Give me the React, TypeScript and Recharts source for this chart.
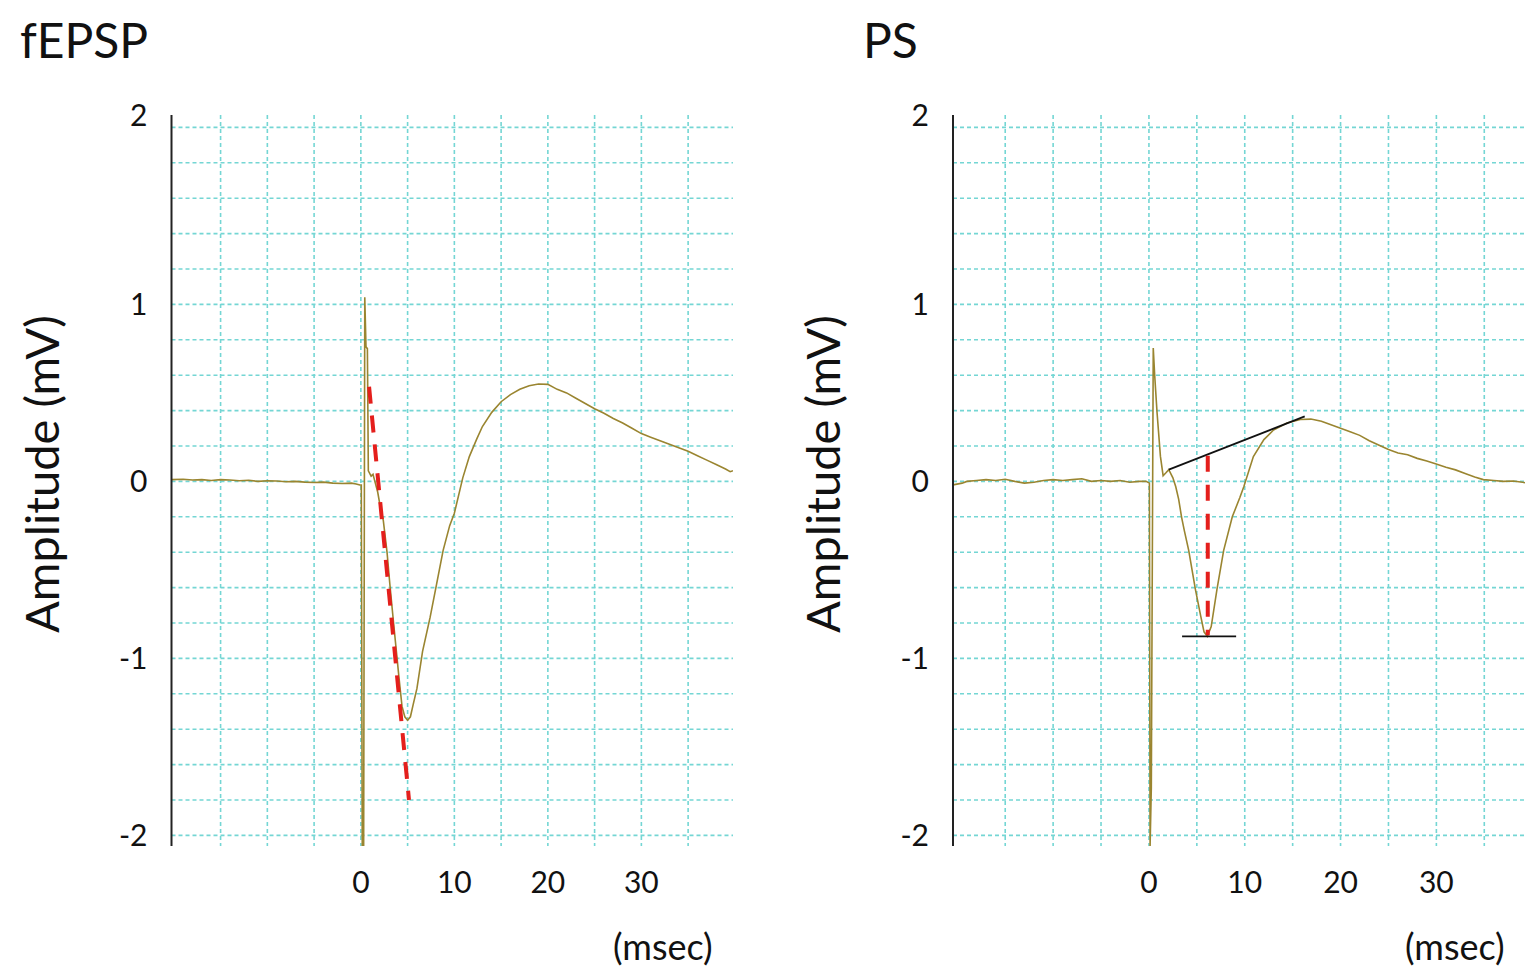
import React from "react";
import { LineChart, Line, XAxis, YAxis, CartesianGrid } from "recharts";

// ---------- data ----------
const fepspTime = [
  -20.25, -19, -18, -17, -16, -15, -14, -13, -12, -11, -10, -9, -8, -7, -6, -5, -4, -3, -2, -1, -0.5, -0.1,
  0.05, 0.15, 0.3, 0.42, 0.55, 0.7, 0.8, 1.1, 1.3, 1.5, 1.8, 2.1, 2.4, 2.8, 3.1, 3.5, 3.8, 4.1, 4.4, 4.7, 5.0,
  5.3, 5.6, 6.0, 6.6, 7.4, 8.1, 8.8, 9.5, 10, 10.9, 11.6, 12.4, 13, 14, 15, 16, 17, 18, 19, 20, 21, 22, 23,
  24, 25, 26, 27, 28, 29, 30, 31, 32, 33, 34, 35, 36, 37, 38, 39, 39.5, 39.8,
];
const fepspAmp = [
  0.01, 0.012, 0.008, 0.01, 0.005, 0.01, 0.008, 0.004, 0.006, 0.0, 0.004, 0.002, -0.002, 0.0, -0.004, -0.006,
  -0.004, -0.01, -0.012, -0.01, -0.015, -0.02,
  -0.02, -2.06, -2.06, 1.04, 0.76, 0.75, 0.06, 0.03, 0.04, 0.0, -0.06, -0.15, -0.22, -0.4, -0.58, -0.8, -0.96,
  -1.12, -1.27, -1.33, -1.35, -1.33, -1.26, -1.17, -0.96, -0.77, -0.58, -0.39, -0.25, -0.18, 0.02, 0.14, 0.24,
  0.31, 0.39, 0.45, 0.49, 0.52, 0.54, 0.55, 0.548, 0.52, 0.5, 0.47, 0.44, 0.41, 0.385, 0.355, 0.33, 0.3, 0.27,
  0.25, 0.23, 0.21, 0.19, 0.17, 0.145, 0.12, 0.095, 0.07, 0.055, 0.06,
];

const psTime = [
  -20.45, -19.5, -19, -18, -17, -16, -15, -14, -13, -12, -11, -10, -9, -8, -7, -6, -5, -4, -3, -2, -1, -0.3,
  0.05, 0.12, 0.25, 0.45, 0.6, 0.85, 1.2, 1.48, 1.8, 2.07, 2.5, 2.8, 3.1, 3.4, 3.7, 4.15, 4.85, 5.4, 5.75, 6.1,
  6.5, 7.1, 7.8, 8.7, 9.5, 9.9, 10.9, 12, 13, 14.4, 15.8, 16.9, 18, 19, 20, 21, 22, 23, 24.2, 25, 26, 27, 28,
  29, 29.9, 31, 32, 33, 34, 34.9, 36, 37, 38, 39, 39.25,
];
const psAmp = [
  -0.02, -0.01, 0.0, 0.005, 0.01, 0.005, 0.012, 0.0, -0.01, -0.005, 0.005, 0.01, 0.005, 0.01, 0.015, 0.0,
  0.005, 0.0, 0.005, -0.005, 0.0, 0.0,
  -0.01, -2.06, -1.73, 0.754, 0.6, 0.386, 0.141, 0.032, 0.05, 0.066, 0.02, -0.03, -0.1, -0.2, -0.28, -0.39,
  -0.61, -0.76, -0.85, -0.875, -0.82, -0.61, -0.39, -0.2, -0.09, -0.03, 0.14, 0.236, 0.29, 0.33, 0.35, 0.352,
  0.34, 0.32, 0.3, 0.28, 0.26, 0.23, 0.2, 0.18, 0.16, 0.15, 0.13, 0.115, 0.1, 0.08, 0.065, 0.045, 0.025, 0.01,
  0.005, 0.0, 0.002, -0.005, -0.008,
];

// slope line on fEPSP (red dashed)
const fepspSlopeTime = [0.88, 5.15];
const fepspSlopeAmp = [0.535, -1.8];
// PS baseline tangent (black)
const psTangentTime = [2.07, 16.26];
const psTangentAmp = [0.066, 0.367];
// PS amplitude (red dashed, vertical)
const psAmpLineTime = [6.14, 6.14];
const psAmpLineAmp = [0.145, -0.87];
// PS trough marker (black horizontal)
const psTroughTime = [3.46, 9.1];
const psTroughAmp = [-0.876, -0.876];

const xGridTicks = [-15, -10, -5, 0, 5, 10, 15, 20, 25, 30, 35];
const xTickLabels = ["0", "10", "20", "30"];
const yGridTicks = [
  -2, -1.8, -1.6, -1.4, -1.2, -1, -0.8, -0.6, -0.4, -0.2, 0, 0.2, 0.4, 0.6, 0.8, 1, 1.2, 1.4, 1.6, 1.8, 2,
];
const yTickLabels = ["-2", "-1", "0", "1", "2"];
const yDomain: [number, number] = [-2.06, 2.07];

const toRows = (ts: number[], vs: number[]) => ts.map((t, i) => ({ t, v: vs[i] }));

const FONT = "Lato, 'Open Sans', sans-serif";
const TRACE = "#9a8530";
const GRID = "#74d6d4";
const RED = "#e41f1c";

const XTick = (props: any) => {
  const { x, y, payload } = props;
  const label = String(payload.value);
  if (!xTickLabels.includes(label)) return <g />;
  return (
    <text x={x} y={y} dy="0.71em" textAnchor="middle" fontSize={30} fontFamily={FONT} fill="#111">
      {label}
    </text>
  );
};

const YTick = (props: any) => {
  const { x, y, payload } = props;
  const v = payload.value;
  const r = Math.round(v);
  const label = String(r);
  if (Math.abs(v - r) > 1e-6 || !yTickLabels.includes(label)) return <g />;
  const shift = r === 2 ? -12 : 0;
  return (
    <text x={x} y={y + shift} dy="0.36em" textAnchor="end" fontSize={30} fontFamily={FONT} fill="#111">
      {label}
    </text>
  );
};

type PanelProps = {
  left: number;
  width: number;
  marginLeft: number;
  marginRight: number;
  xDomain: [number, number];
  rows: { t: number; v: number }[];
  extras: { rows: { t: number; v: number }[]; color: string; width: number; dash?: string }[];
};

const Panel = ({ left, width, marginLeft, marginRight, xDomain, rows, extras }: PanelProps) => {
  // linear mapping of the axis domains onto the plot area, for grid lines only
  const hGen = (p: any) => {
    const o = p?.offset;
    if (!o) return [];
    return yGridTicks.map((v) => o.top + ((yDomain[1] - v) / (yDomain[1] - yDomain[0])) * o.height);
  };
  const vGen = (p: any) => {
    const o = p?.offset;
    if (!o) return [];
    return xGridTicks.map((v) => o.left + ((v - xDomain[0]) / (xDomain[1] - xDomain[0])) * o.width);
  };
  return (
    <div style={{ position: "absolute", left, top: 0 }}>
      <LineChart
        width={width}
        height={979}
        data={rows}
        margin={{ top: 115, right: marginRight, bottom: 103, left: marginLeft }}
      >
        <CartesianGrid
          stroke={GRID}
          strokeWidth={1.6}
          strokeDasharray="4 3"
          horizontalCoordinatesGenerator={hGen}
          verticalCoordinatesGenerator={vGen}
        />
        <XAxis
          type="number"
          dataKey="t"
          domain={xDomain}
          ticks={xGridTicks}
          interval={0}
          allowDataOverflow
          height={30}
          axisLine={false}
          tickLine={false}
          tickSize={0}
          tickMargin={26}
          tick={XTick}
        />
        <YAxis
          type="number"
          domain={yDomain}
          ticks={yGridTicks}
          interval={0}
          allowDataOverflow
          width={80}
          axisLine={{ stroke: "#222", strokeWidth: 2 }}
          tickLine={false}
          tickSize={0}
          tickMargin={24}
          tick={YTick}
        />
        <Line
          type="linear"
          dataKey="v"
          stroke={TRACE}
          strokeWidth={1.6}
          dot={false}
          activeDot={false}
          isAnimationActive={false}
        />
        {extras.map((e, i) => (
          <Line
            key={i}
            data={e.rows}
            type="linear"
            dataKey="v"
            stroke={e.color}
            strokeWidth={e.width}
            strokeDasharray={e.dash}
            dot={false}
            activeDot={false}
            isAnimationActive={false}
          />
        ))}
      </LineChart>
    </div>
  );
};

export default function App() {
  return (
    <div style={{ position: "absolute", left: 0, top: 0, width: 1535, height: 979, background: "#fff", overflow: "hidden" }}>
      <Panel
        left={0}
        width={760}
        marginLeft={91.5}
        marginRight={27}
        xDomain={[-20.25, 39.8]}
        rows={toRows(fepspTime, fepspAmp)}
        extras={[{ rows: toRows(fepspSlopeTime, fepspSlopeAmp), color: RED, width: 4, dash: "17 12" }]}
      />
      <Panel
        left={780}
        width={755}
        marginLeft={93}
        marginRight={10}
        xDomain={[-20.45, 39.25]}
        rows={toRows(psTime, psAmp)}
        extras={[
          { rows: toRows(psTangentTime, psTangentAmp), color: "#111", width: 1.8 },
          { rows: toRows(psTroughTime, psTroughAmp), color: "#111", width: 1.8 },
          { rows: toRows(psAmpLineTime, psAmpLineAmp), color: RED, width: 4, dash: "16 13" },
        ]}
      />
      <svg width={1535} height={979} style={{ position: "absolute", left: 0, top: 0, pointerEvents: "none" }}>
        <g fontFamily={FONT} fill="#111">
          <text x={20} y={58} fontSize={48}>fEPSP</text>
          <text x={863} y={58} fontSize={48}>PS</text>
          <text x={59} y={474} fontSize={47} textAnchor="middle" transform="rotate(-90 59 474)">Amplitude (mV)</text>
          <text x={840} y={474} fontSize={47} textAnchor="middle" transform="rotate(-90 840 474)">Amplitude (mV)</text>
          <text x={613} y={960} fontSize={36}>(msec)</text>
          <text x={1405} y={960} fontSize={36}>(msec)</text>
        </g>
      </svg>
    </div>
  );
}
